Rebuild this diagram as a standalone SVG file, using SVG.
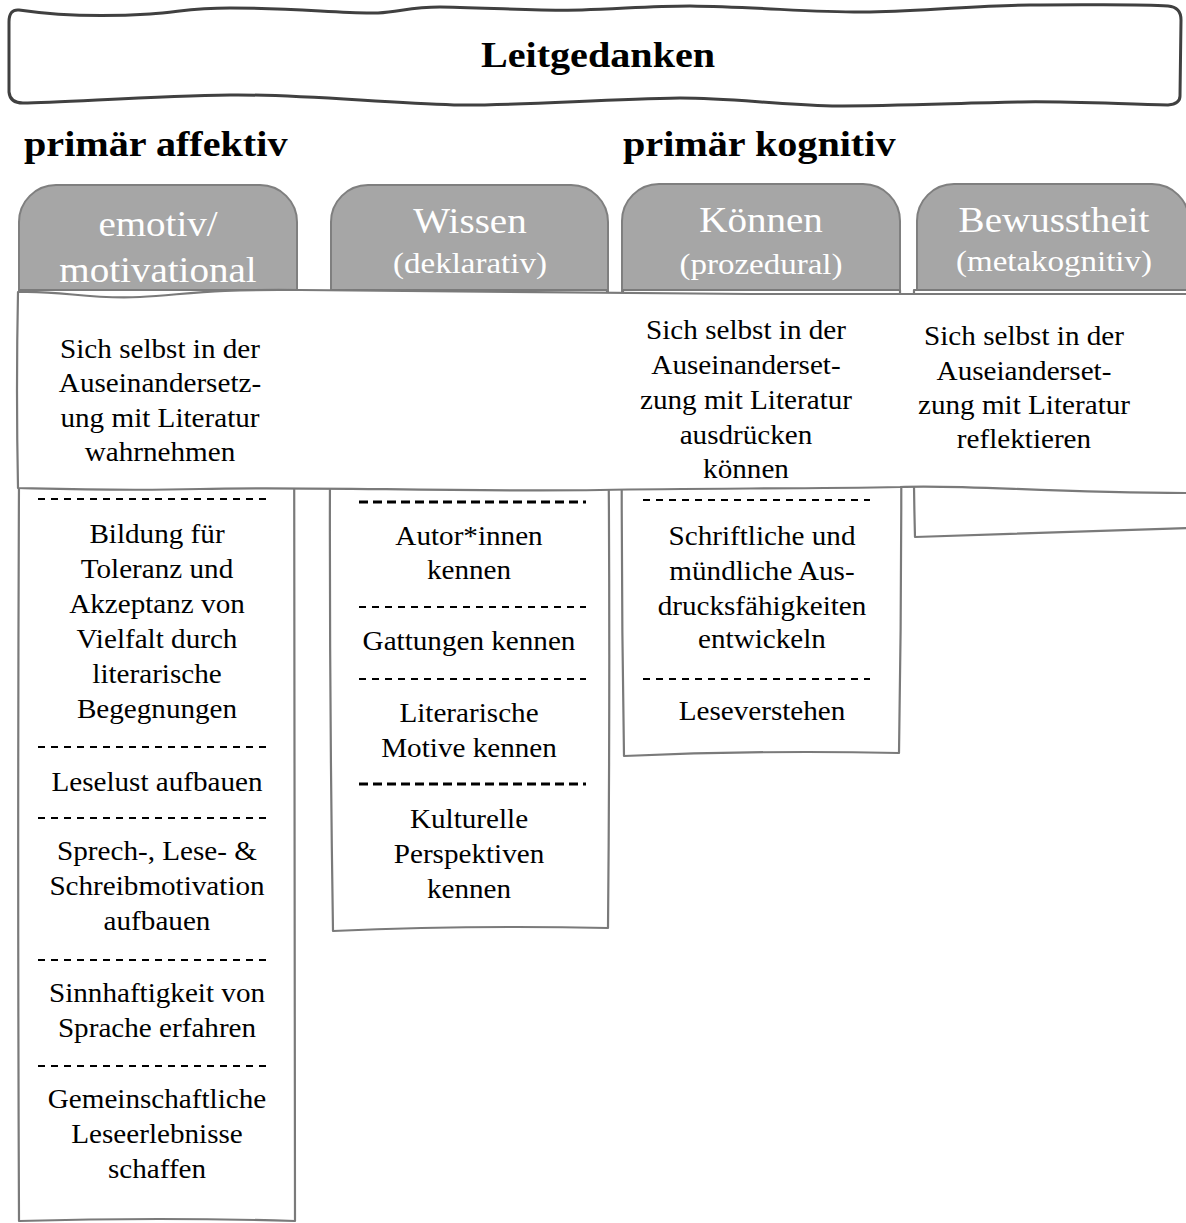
<svg xmlns="http://www.w3.org/2000/svg" width="1186" height="1223" viewBox="0 0 1186 1223">
<style>
text{font-family:"Liberation Serif","Times New Roman",serif;text-anchor:middle}
.b{font-size:26.5px;fill:#000}
.tt{font-size:35.5px;fill:#fff}
.ts{font-size:30px;fill:#fff}
.hd{font-size:36.5px;font-weight:bold;fill:#000}
.box{fill:#fff;stroke:#7a7a7a;stroke-width:2.2;stroke-linejoin:round}
.tab{fill:#a6a6a6;stroke:#7f7f7f;stroke-width:2}
.d{stroke:#000;stroke-width:2;stroke-dasharray:7 6;fill:none}
.db{stroke:#000;stroke-width:3;stroke-dasharray:9 5;fill:none}
</style>
<rect width="1186" height="1223" fill="#fff"/>

<g id="banner">
<path d="M19,10 C60,16 100,17 150,14 C180,12 190,8 230,8 C300,8 340,14 378,13 C400,12 410,7 440,7 C500,8 540,11 582,10 C620,9 650,6 690,6 C760,7 820,13 870,12 C930,11 980,5 1030,5 C1100,5 1140,4 1168,6 Q1181,7 1181,20 L1180,96 Q1180,104 1168,105 C1120,104 1060,101 1021,102 C960,103 900,106 832,106 C770,104 730,98 680,98 C600,99 520,106 454,105 C380,103 300,94 230,95 C150,96 60,103 23,103 Q10,103 9,92 L9,22 Q9,9 19,10 Z" fill="#fff" stroke="#404040" stroke-width="3"/>
<text class="hd" transform="translate(598,67) scale(1.1,1)">Leitgedanken</text>
</g>

<g id="heading-affektiv">
<text class="hd" style="text-anchor:start" transform="translate(24,156) scale(1.1,1)">primär affektiv</text>
</g>
<g id="heading-kognitiv">
<text class="hd" style="text-anchor:start" transform="translate(623,156) scale(1.1,1)">primär kognitiv</text>
</g>

<g id="tab-emotiv">
<path class="tab" d="M19,300 L19,222 A37,37 0 0 1 56,185 L260,185 A37,37 0 0 1 297,222 L297,300 Z"/>
<g transform="translate(158,0) scale(1.1,1)">
<text class="tt" y="236">emotiv/</text>
<text class="tt" y="282">motivational</text>
</g>
</g>
<g id="tab-wissen">
<path class="tab" d="M331,300 L331,222 A37,37 0 0 1 368,185 L571,185 A37,37 0 0 1 608,222 L608,300 Z"/>
<g transform="translate(470,0) scale(1.1,1)">
<text class="tt" y="233">Wissen</text>
<text class="ts" y="273">(deklarativ)</text>
</g>
</g>
<g id="tab-koennen">
<path class="tab" d="M622,300 L622,221 A37,37 0 0 1 659,184 L863,184 A37,37 0 0 1 900,221 L900,300 Z"/>
<g transform="translate(761,0) scale(1.1,1)">
<text class="tt" y="232">Können</text>
<text class="ts" y="274">(prozedural)</text>
</g>
</g>
<g id="tab-bewusstheit">
<path class="tab" d="M917,300 L917,221 A37,37 0 0 1 954,184 L1152,184 A37,37 0 0 1 1189,221 L1189,300 Z"/>
<g transform="translate(1054,0) scale(1.1,1)">
<text class="tt" y="232">Bewusstheit</text>
<text class="ts" y="271">(metakognitiv)</text>
</g>
</g>

<g id="col-emotiv">
<path class="box" d="M20,290 L294,290 Q296,760 295,1221 Q160,1217 19,1221 Q17,760 20,290 Z"/>
<path class="d" d="M38,499 H270 M38,747 H270 M38,818 H270 M38,960 H270 M38,1066 H270"/>
<g transform="translate(157,0) scale(1.1,1)">
<text class="b" y="543">Bildung für</text>
<text class="b" y="578">Toleranz und</text>
<text class="b" y="613">Akzeptanz von</text>
<text class="b" y="648">Vielfalt durch</text>
<text class="b" y="683">literarische</text>
<text class="b" y="718">Begegnungen</text>
<text class="b" y="791">Leselust aufbauen</text>
<text class="b" y="860">Sprech-, Lese- &amp;</text>
<text class="b" y="895">Schreibmotivation</text>
<text class="b" y="930">aufbauen</text>
<text class="b" y="1002">Sinnhaftigkeit von</text>
<text class="b" y="1037">Sprache erfahren</text>
<text class="b" y="1108">Gemeinschaftliche</text>
<text class="b" y="1143">Leseerlebnisse</text>
<text class="b" y="1178">schaffen</text>
</g>
</g>

<g id="col-wissen">
<path class="box" d="M331,290 L607,290 Q611,610 608,928 Q470,925 333,931 Q328,610 331,290 Z"/>
<path class="db" d="M359,502 H586 M359,784 H586"/>
<path class="d" d="M359,607 H586 M359,679 H586"/>
<g transform="translate(469,0) scale(1.1,1)">
<text class="b" y="545">Autor*innen</text>
<text class="b" y="579">kennen</text>
<text class="b" y="650">Gattungen kennen</text>
<text class="b" y="722">Literarische</text>
<text class="b" y="757">Motive kennen</text>
<text class="b" y="828">Kulturelle</text>
<text class="b" y="863">Perspektiven</text>
<text class="b" y="898">kennen</text>
</g>
</g>

<g id="col-koennen">
<path class="box" d="M623,290 L900,290 Q903,520 899,753 Q760,750 624,756 Q620,520 623,290 Z"/>
<path class="d" d="M643,500 H870 M643,679 H870"/>
<g transform="translate(762,0) scale(1.1,1)">
<text class="b" y="545">Schriftliche und</text>
<text class="b" y="580">mündliche Aus-</text>
<text class="b" y="615">drucksfähigkeiten</text>
<text class="b" y="648">entwickeln</text>
<text class="b" y="720">Leseverstehen</text>
</g>
</g>

<g id="col-bewusstheit">
<path class="box" d="M914,290 L1190,290 L1190,528 Q1050,533 915,537 Q912,420 914,290 Z"/>
</g>

<g id="selbst-box">
<path class="box" d="M18,292 C60,290 90,300 140,297 C190,294 210,289 300,290 C450,292 600,293 750,294 C900,295 1050,293 1190,294 L1190,493 C1050,493 960,484 900,487 C800,489 700,488 600,490 C450,492 300,486 200,489 C120,491 60,489 18,488 Q16,390 18,292 Z"/>
<g transform="translate(160,0) scale(1.1,1)">
<text class="b" y="358">Sich selbst in der</text>
<text class="b" y="392">Auseinandersetz-</text>
<text class="b" y="427">ung mit Literatur</text>
<text class="b" y="461">wahrnehmen</text>
</g>
<g transform="translate(746,0) scale(1.1,1)">
<text class="b" y="339">Sich selbst in der</text>
<text class="b" y="374">Auseinanderset-</text>
<text class="b" y="409">zung mit Literatur</text>
<text class="b" y="444">ausdrücken</text>
<text class="b" y="478">können</text>
</g>
<g transform="translate(1024,0) scale(1.1,1)">
<text class="b" y="345">Sich selbst in der</text>
<text class="b" y="380">Auseianderset-</text>
<text class="b" y="414">zung mit Literatur</text>
<text class="b" y="448">reflektieren</text>
</g>
</g>

<g id="connectors"/>
</svg>
